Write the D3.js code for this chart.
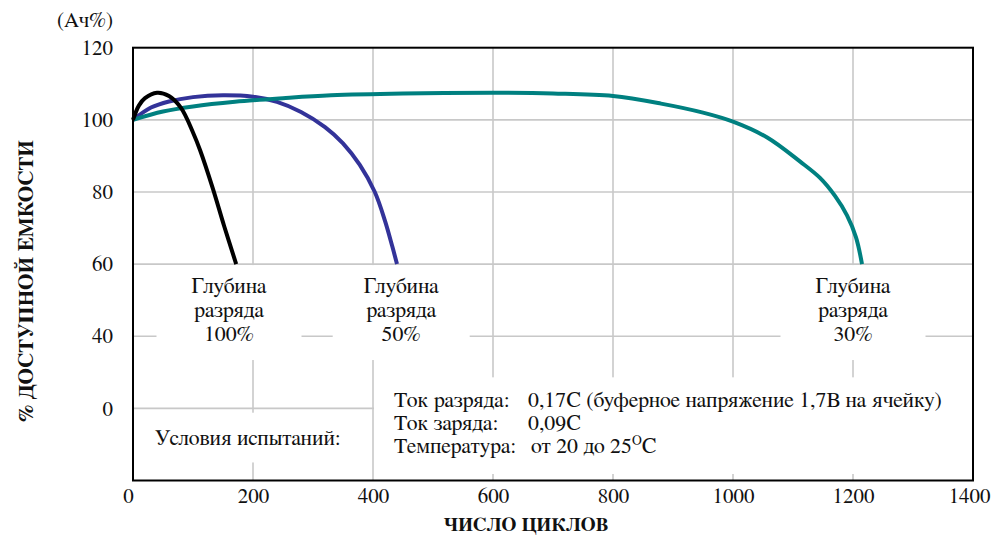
<!DOCTYPE html>
<html>
<head>
<meta charset="utf-8">
<script src="https://cdn.jsdelivr.net/npm/d3@7/dist/d3.min.js"></script>
<style>
  html, body { margin: 0; padding: 0; background: #fff; }
  svg { display: block; }
  svg text { font-family: "FreeSerif", "Liberation Serif", "Times New Roman", serif; fill: #111; }
</style>
</head>
<body>
<svg id="chart" width="991" height="536"></svg>
<script>
// Cycle life at different depths of discharge
const depth100 = [[0,100],[10,104],[20,106],[40,107.5],[60,106.6],[80,103.3],[100,96.5],[112,91.5],[133,81],[152,70.5],[172,60]];
const depth50  = [[0,100],[30,103.4],[60,105.1],[100,106.3],[150,106.8],[200,106.4],[240,105],[280,102.2],[320,98],[350,93.5],[378,87.5],[403,80],[420,72],[432,65],[440,60]];
const depth30  = [[0,100],[50,102.3],[100,103.7],[170,105],[250,106],[330,106.8],[450,107.3],[600,107.5],[700,107.3],[800,106.6],[880,104.5],[950,102],[1000,99.5],[1057,95.1],[1112,88.4],[1145,83.9],[1170,78.9],[1190,73.5],[1205,67.4],[1215,60]];

const xTickValues = [0,200,400,600,800,1000,1200,1400];
const yTickValues = [120,100,80,60,40,20];
const yTickLabels = ["120","100","80","60","40","0"];

const depthLabels = [
  { x: 160, lines: ["Глубина","разряда","100%"] },
  { x: 447, lines: ["Глубина","разряда","50%"] },
  { x: 1200, lines: ["Глубина","разряда","30%"] }
];
const conditionsTitle = "Условия испытаний:";
const conditionsRows = [
  ["Ток разряда:", "0,17С (буферное напряжение 1,7В на ячейку)"],
  ["Ток заряда:", "0,09С"],
  ["Температура:", "от 20 до 25", "O", "С"]
];

const svg = d3.select("#chart");
const plotL = 133, plotR = 973, plotT = 47.7, plotB = 480.5;

const x = d3.scaleLinear().domain([0,1400]).range([plotL,plotR]);
const y = d3.scaleLinear().domain([0,120]).range([plotB,plotT]);

// font size that makes a string span the given width
function sizeFor(str, width, weight) {
  const t = svg.append("text").attr("font-size", 100).attr("font-weight", weight || "normal").text(str);
  const w = t.node().getComputedTextLength();
  t.remove();
  return 100 * width / w;
}
const noteSize = sizeFor(conditionsRows[0][1], 414);
const tickSize = noteSize * 0.96;

// grid
const grid = svg.append("g").attr("stroke","#c8c8c8").attr("stroke-width",1.6);
grid.selectAll("line.v").data(xTickValues.filter(d => d > 0 && d < 1400)).join("line").attr("class","v")
  .attr("x1", d => x(d)).attr("x2", d => x(d)).attr("y1", plotT).attr("y2", plotB);
grid.selectAll("line.h").data(yTickValues.filter(d => d < 120)).join("line").attr("class","h")
  .attr("y1", d => y(d)).attr("y2", d => y(d)).attr("x1", plotL).attr("x2", plotR);

// white label panels over the grid
const panelW = [145, 137, 145];
svg.append("g").selectAll("rect").data(depthLabels).join("rect")
  .attr("x", (d,i) => x(d.x) - panelW[i]/2)
  .attr("width", (d,i) => panelW[i])
  .attr("y", y(60) + 1).attr("height", y(33.4) - y(60) - 1)
  .attr("fill","#fff");

svg.append("rect").attr("x", x(12)).attr("width", x(400) - x(12) - 1)
  .attr("y", y(18.8)).attr("height", y(5) - y(18.8)).attr("fill","#fff");
svg.append("rect").attr("x", x(400) + 1).attr("width", x(1400) - x(400) - 2)
  .attr("y", y(28.6)).attr("height", y(1.8) - y(28.6)).attr("fill","#fff");

// curves
const line = d3.line().x(d => x(d[0])).y(d => y(d[1])).curve(d3.curveCatmullRom.alpha(0.5));
const series = [
  { data: depth50, color: "#333399" },
  { data: depth30, color: "#008080" },
  { data: depth100, color: "#000000" }
];
svg.append("g").selectAll("path").data(series).join("path")
  .attr("d", d => line(d.data))
  .attr("fill","none").attr("stroke", d => d.color)
  .attr("stroke-width", 4).attr("stroke-linecap","butt");

// frame
svg.append("rect").attr("x", plotL).attr("y", plotT)
  .attr("width", plotR - plotL).attr("height", plotB - plotT)
  .attr("fill","none").attr("stroke","#000").attr("stroke-width",2);

// axes (labels only)
const xAxis = d3.axisBottom(x).tickValues(xTickValues).tickSize(0).tickPadding(8).tickFormat(d3.format("d"));
const gx = svg.append("g").attr("transform", `translate(0,${plotB})`).call(xAxis);
gx.select(".domain").remove();
gx.selectAll("text").attr("fill","#111").attr("font-size", tickSize);
gx.selectAll(".tick").filter(d => d === 0).select("text").attr("dx", -5);
gx.selectAll(".tick").filter(d => d === 1400).select("text").attr("text-anchor", "end").attr("dx", 17);

const yAxis = d3.axisLeft(y).tickValues(yTickValues).tickSize(0).tickPadding(20)
  .tickFormat((d,i) => yTickLabels[i]);
const gy = svg.append("g").attr("transform", `translate(${plotL},0)`).call(yAxis);
gy.select(".domain").remove();
gy.selectAll("text").attr("fill","#111").attr("font-size", tickSize);

svg.append("text").attr("x", 113).attr("y", 27).attr("text-anchor","end")
  .attr("font-size", sizeFor("(Ач%)", 56)).text("(Ач%)");

svg.append("text").attr("x", 526).attr("y", 531).attr("text-anchor","middle")
  .attr("font-size", sizeFor("ЧИСЛО ЦИКЛОВ", 165, "bold")).attr("font-weight","bold").text("ЧИСЛО ЦИКЛОВ");

svg.append("text").attr("transform", "translate(33,281) rotate(-90)").attr("text-anchor","middle")
  .attr("font-size", sizeFor("% ДОСТУПНОЙ ЕМКОСТИ", 282, "bold")).attr("font-weight","bold").text("% ДОСТУПНОЙ ЕМКОСТИ");

// depth-of-discharge labels
const dl = svg.append("g").selectAll("text").data(depthLabels).join("text")
  .attr("text-anchor","middle").attr("font-size", noteSize);
dl.each(function(d) {
  const t = d3.select(this);
  d.lines.forEach((s, i) => {
    t.append("tspan").attr("x", x(d.x)).attr("y", y(60) + 29 + i * 24).text(s);
  });
});

// test conditions
svg.append("text").attr("x", 155).attr("y", 445).attr("font-size", noteSize).text(conditionsTitle);
const cond = svg.append("g");
conditionsRows.forEach((r, i) => {
  const yy = 407 + i * 23;
  cond.append("text").attr("x", 394).attr("y", yy).attr("font-size", noteSize).text(r[0]);
  const v = cond.append("text").attr("x", i === 2 ? 531 : 528).attr("y", yy).attr("font-size", noteSize);
  v.append("tspan").text(r[1]);
  if (r.length > 2) {
    v.append("tspan").attr("font-size", noteSize * 0.62).attr("dy", -8).text(r[2]);
    v.append("tspan").attr("dy", 8).text(r[3]);
  }
});
</script>
</body>
</html>
